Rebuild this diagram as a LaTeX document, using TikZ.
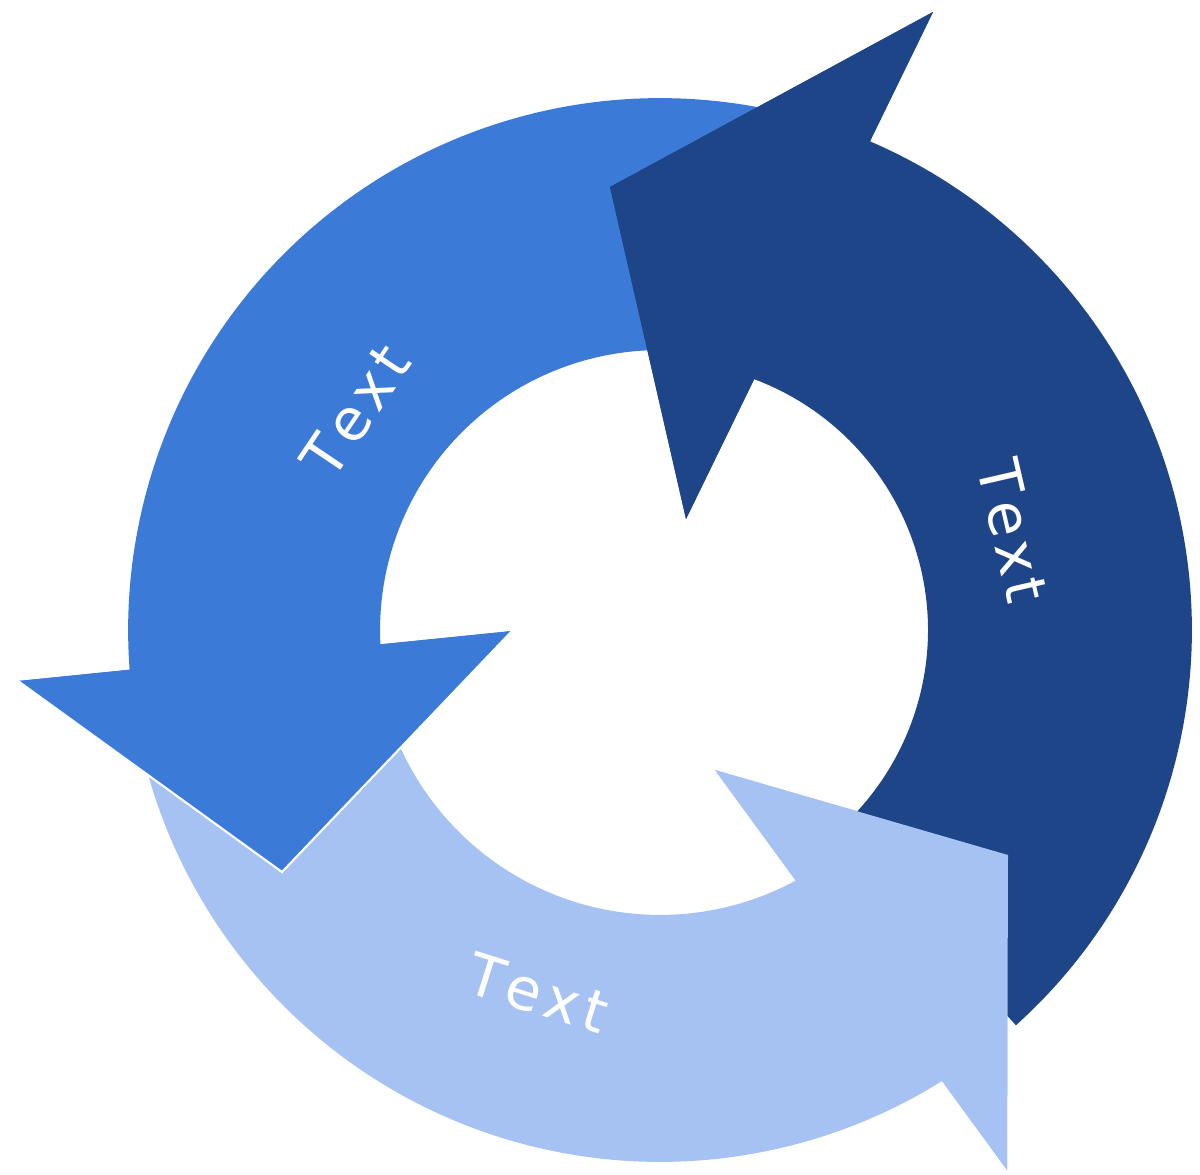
\documentclass[tikz,border=0pt]{standalone}
\usepackage{fontspec}
\newfontfamily\lblfont{DejaVu Sans}
\usetikzlibrary{calc}
\definecolor{cDark}{HTML}{1E4588}
\definecolor{cMid}{HTML}{3C7AD8}
\definecolor{cLight}{HTML}{A5C2F3}
\newcommand{\spacedtext}{T\kern3pt e\kern3pt x\kern3pt t}
\tikzset{
  lbl/.style={text=white, inner sep=0pt, font=\lblfont\fontsize{33}{39}\selectfont},
  headline/.style={white, line width=1.2pt, line join=miter}
}
\begin{document}
\begin{tikzpicture}[x=0.02cm, y=0.02cm]
\useasboundingbox (0,0) rectangle (1200,-1174);
\coordinate (C) at (660,-630);
% dark arrow head points
\coordinate (D1) at (933,-12);
\coordinate (DT) at (610,-187);
\coordinate (D2) at (686,-519);
% medium arrow head points
\coordinate (Mout) at (18,-681);
\coordinate (MT) at (282,-872);
\coordinate (Min) at (512,-631);
% light arrow head points
\coordinate (Lin) at (715,-770);
\coordinate (LT) at (1008,-855);
\coordinate (Lout) at (1007,-1170);
% full arrow shapes
\fill[cLight] ([shift={(190:10.64cm)}]C) arc[start angle=190, end angle=302.02, radius=10.64cm]
  -- (Lout) -- (LT) -- (Lin) -- ([shift={(298.43:5.7cm)}]C)
  arc[start angle=298.43, end angle=190, radius=5.7cm] -- cycle;
\fill[cMid] ([shift={(73:10.64cm)}]C) arc[start angle=73, end angle=184.28, radius=10.64cm]
  -- (Mout) -- (MT) -- (Min) -- ([shift={(182.93:5.6cm)}]C)
  arc[start angle=182.93, end angle=73, radius=5.6cm] -- cycle;
\fill[cDark] ([shift={(-48:10.64cm)}]C) arc[start angle=-48, end angle=66.76, radius=10.64cm]
  -- (D1) -- (DT) -- (D2) -- ([shift={(69.42:5.36cm)}]C)
  arc[start angle=69.42, end angle=-48, radius=5.36cm] -- cycle;
% heads on top
\fill[cDark] (D1) -- (DT) -- (D2) -- cycle;
\fill[cLight] (Lin) -- (LT) -- (Lout) -- cycle;
\fill[cMid] (Mout) -- (MT) -- (Min) -- cycle;
\draw[headline] (Mout) -- (MT) -- (Min);
% labels
\node[lbl, rotate=56] (t1) at (356,-411) {\spacedtext};
\node[lbl, rotate=-77] (t2) at (1013,-531) {\spacedtext};
\node[lbl, rotate=-17.5] (t3) at (538,-993) {\spacedtext};
\end{tikzpicture}
\end{document}
